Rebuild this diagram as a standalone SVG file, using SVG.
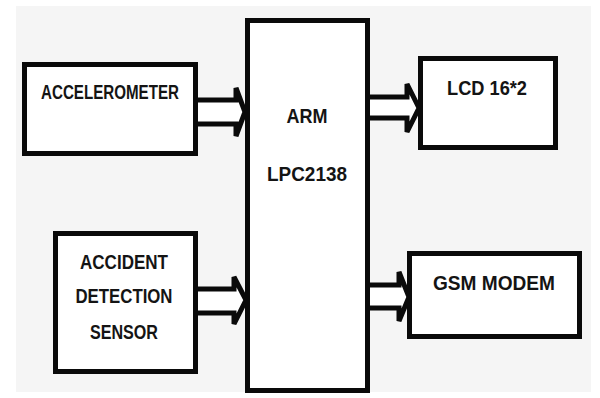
<svg xmlns="http://www.w3.org/2000/svg" width="600" height="398" viewBox="0 0 600 398">
<style>
.box{fill:#fff;stroke:#0a0a0a;stroke-width:5}
.arr{fill:#fff;stroke:#0a0a0a;stroke-width:5;stroke-linejoin:miter}
.t{font-family:"Liberation Sans",Arial,sans-serif;font-weight:bold;font-size:21px;fill:#141414;text-anchor:middle}
</style>
<rect x="0" y="0" width="600" height="398" fill="#ffffff"/>
<rect x="16" y="6" width="575" height="386" fill="#f5f5f5"/>
<g id="connectors">
<path class="arr" d="M198,100 L236,100 L236,88 L245,112 L236,136 L236,124 L198,124"/>
<path class="arr" d="M198,289 L234,289 L234,277 L246,300 L234,324 L234,313 L198,313"/>
<path class="arr" d="M370,97 L407,97 L407,84 L419,108 L407,132 L407,118 L370,118"/>
<path class="arr" d="M370,285 L399,285 L399,272 L409,297 L399,321 L399,308 L370,308"/>
</g>
<g id="accelerometer">
<rect class="box" x="24.5" y="64.5" width="171" height="89"/>
<text class="t" x="110" y="99" textLength="138" lengthAdjust="spacingAndGlyphs">ACCELEROMETER</text>
</g>
<g id="accident">
<rect class="box" x="55.5" y="233.5" width="140" height="138"/>
<text class="t" x="124" y="269" textLength="88" lengthAdjust="spacingAndGlyphs">ACCIDENT</text>
<text class="t" x="124" y="303" textLength="97" lengthAdjust="spacingAndGlyphs">DETECTION</text>
<text class="t" x="124" y="339" textLength="68" lengthAdjust="spacingAndGlyphs">SENSOR</text>
</g>
<g id="arm">
<rect class="box" x="247.5" y="20.5" width="120" height="370"/>
<text class="t" x="307" y="123" textLength="41" lengthAdjust="spacingAndGlyphs">ARM</text>
<text class="t" x="307" y="181" textLength="80" lengthAdjust="spacingAndGlyphs">LPC2138</text>
</g>
<g id="lcd">
<rect class="box" x="420.5" y="58.5" width="135" height="89"/>
<text class="t" x="487" y="95" textLength="80" lengthAdjust="spacingAndGlyphs">LCD 16*2</text>
</g>
<g id="gsm">
<rect class="box" x="409.5" y="253.5" width="170" height="83"/>
<text class="t" x="494" y="290" textLength="122" lengthAdjust="spacingAndGlyphs">GSM MODEM</text>
</g>
</svg>
